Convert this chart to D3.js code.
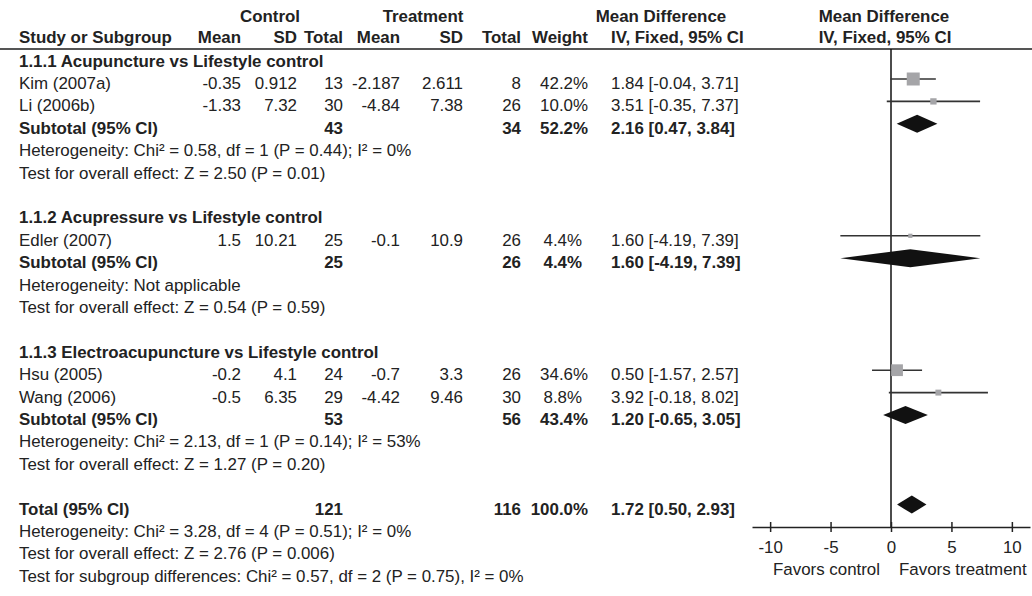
<!DOCTYPE html>
<html>
<head>
<meta charset="utf-8">
<script src="https://cdn.jsdelivr.net/npm/d3@7"></script>
<style>
  body { margin: 0; background: #fff; }
  text { font-family: "Liberation Sans", Arial, sans-serif; fill: #222; }
</style>
</head>
<body>
<svg id="chart" width="1032" height="596"></svg>
<script>
// ---- Study-level data ----
const groupTitles = [
  "1.1.1 Acupuncture vs Lifestyle control",
  "1.1.2 Acupressure vs Lifestyle control",
  "1.1.3 Electroacupuncture vs Lifestyle control"
];
const studyGroup = [0, 0, 1, 2, 2];
const studyNames = ["Kim (2007a)", "Li (2006b)", "Edler (2007)", "Hsu (2005)", "Wang (2006)"];
const ctrlMean = ["-0.35", "-1.33", "1.5", "-0.2", "-0.5"];
const ctrlSD = ["0.912", "7.32", "10.21", "4.1", "6.35"];
const ctrlN = [13, 30, 25, 24, 29];
const trtMean = ["-2.187", "-4.84", "-0.1", "-0.7", "-4.42"];
const trtSD = ["2.611", "7.38", "10.9", "3.3", "9.46"];
const trtN = [8, 26, 26, 26, 30];
const studyWeight = [42.2, 10.0, 4.4, 34.6, 8.8];
const studyMD = [1.84, 3.51, 1.60, 0.50, 3.92];
const studyLo = [-0.04, -0.35, -4.19, -1.57, -0.18];
const studyHi = [3.71, 7.37, 7.39, 2.57, 8.02];

// ---- Subgroup pooled estimates ----
const subCtrlN = [43, 25, 53];
const subTrtN = [34, 26, 56];
const subWeight = [52.2, 4.4, 43.4];
const subMD = [2.16, 1.60, 1.20];
const subLo = [0.47, -4.19, -0.65];
const subHi = [3.84, 7.39, 3.05];
const subHet = [
  "Heterogeneity: Chi\u00b2 = 0.58, df = 1 (P = 0.44); I\u00b2 = 0%",
  "Heterogeneity: Not applicable",
  "Heterogeneity: Chi\u00b2 = 2.13, df = 1 (P = 0.14); I\u00b2 = 53%"
];
const subTest = [
  "Test for overall effect: Z = 2.50 (P = 0.01)",
  "Test for overall effect: Z = 0.54 (P = 0.59)",
  "Test for overall effect: Z = 1.27 (P = 0.20)"
];

// ---- Overall pooled estimate ----
const totalCtrlN = 121;
const totalTrtN = 116;
const totalWeight = 100.0;
const totalMD = 1.72;
const totalLo = 0.50;
const totalHi = 2.93;
const totalNotes = [
  "Heterogeneity: Chi\u00b2 = 3.28, df = 4 (P = 0.51); I\u00b2 = 0%",
  "Test for overall effect: Z = 2.76 (P = 0.006)",
  "Test for subgroup differences: Chi\u00b2 = 0.57, df = 2 (P = 0.75), I\u00b2 = 0%"
];

// ---- Axis ----
const axisTicks = [-10, -5, 0, 5, 10];
const axisLeftLabel = "Favors control";
const axisRightLabel = "Favors treatment";

// ---- Layout ----
const W = 1032, H = 596;
const FS = 16.9;
const rowH = 22.4;
const firstRowY = 56.6;   // centre line of the first body row (marks)
const textShift = 4;      // table text sits slightly below the mark centre
const headerLineY = 49;
const axisY = 527;
const col = {
  label: 19, cMean: 241, cSD: 297, cN: 343,
  tMean: 400, tSD: 463, tN: 521, weight: 588, ci: 611
};

const svg = d3.select("#chart");
// Plain hyphen for negatives, as in the printed table
const num2 = v => d3.format(".2f")(v).replace("\u2212", "-");
const fmtW = w => d3.format(".1f")(w) + "%";
// single-digit weights sit a little left of the column edge
const weightX = w => col.weight - (w < 10 ? 6 : 0);
const ciText = (m, l, h) => `${num2(m)} [${num2(l)}, ${num2(h)}]`;

// Build the row list
const rows = [];
groupTitles.forEach((title, g) => {
  rows.push({ type: "group", text: title });
  studyNames.forEach((name, i) => {
    if (studyGroup[i] !== g) return;
    rows.push({
      type: "study", name,
      cMean: ctrlMean[i], cSD: ctrlSD[i], cN: ctrlN[i],
      tMean: trtMean[i], tSD: trtSD[i], tN: trtN[i],
      weight: studyWeight[i], md: studyMD[i], lo: studyLo[i], hi: studyHi[i]
    });
  });
  rows.push({
    type: "pooled", name: "Subtotal (95% CI)", cN: subCtrlN[g], tN: subTrtN[g],
    weight: subWeight[g], md: subMD[g], lo: subLo[g], hi: subHi[g]
  });
  rows.push({ type: "note", text: subHet[g] });
  rows.push({ type: "note", text: subTest[g] });
  rows.push({ type: "blank" });
});
rows.push({
  type: "pooled", name: "Total (95% CI)", cN: totalCtrlN, tN: totalTrtN,
  weight: totalWeight, md: totalMD, lo: totalLo, hi: totalHi
});
totalNotes.forEach(t => rows.push({ type: "note", text: t }));
rows.forEach((r, i) => { r.y = firstRowY + i * rowH; r.ty = r.y + textShift; });

// Scale for the forest plot
const x = d3.scaleLinear().domain([-11.5, 11.5]).range([752, 1030]);

function txt(xp, y, s, anchor = "start", bold = false) {
  return svg.append("text")
    .attr("x", xp).attr("y", y).attr("dy", "0.36em")
    .attr("text-anchor", anchor)
    .attr("font-size", FS)
    .attr("font-weight", bold ? "bold" : "normal")
    .text(s);
}

// Header
const hy1 = 16, hy2 = 37;
txt(270, hy1, "Control", "middle", true);
txt(423, hy1, "Treatment", "middle", true);
txt(661, hy1, "Mean Difference", "middle", true);
txt(884, hy1, "Mean Difference", "middle", true);
txt(col.label, hy2, "Study or Subgroup", "start", true);
txt(col.cMean, hy2, "Mean", "end", true);
txt(col.cSD, hy2, "SD", "end", true);
txt(col.cN, hy2, "Total", "end", true);
txt(col.tMean, hy2, "Mean", "end", true);
txt(col.tSD, hy2, "SD", "end", true);
txt(col.tN, hy2, "Total", "end", true);
txt(col.weight, hy2, "Weight", "end", true);
txt(col.ci, hy2, "IV, Fixed, 95% CI", "start", true);
txt(885, hy2, "IV, Fixed, 95% CI", "middle", true);

svg.append("line")
  .attr("x1", 0).attr("x2", W).attr("y1", headerLineY).attr("y2", headerLineY)
  .attr("stroke", "#555").attr("stroke-width", 2);

// Zero line
svg.append("line")
  .attr("x1", x(0)).attr("x2", x(0)).attr("y1", headerLineY).attr("y2", axisY)
  .attr("stroke", "#111").attr("stroke-width", 1.5);

// Table rows
rows.forEach(r => {
  const y = r.ty;
  if (r.type === "group") txt(col.label, y, r.text, "start", true);
  else if (r.type === "note") txt(col.label, y, r.text);
  else if (r.type === "study") {
    txt(col.label, y, r.name);
    txt(col.cMean, y, r.cMean, "end");
    txt(col.cSD, y, r.cSD, "end");
    txt(col.cN, y, r.cN, "end");
    txt(col.tMean, y, r.tMean, "end");
    txt(col.tSD, y, r.tSD, "end");
    txt(col.tN, y, r.tN, "end");
    txt(weightX(r.weight), y, fmtW(r.weight), "end");
    txt(col.ci, y, ciText(r.md, r.lo, r.hi));
  } else if (r.type === "pooled") {
    txt(col.label, y, r.name, "start", true);
    txt(col.cN, y, r.cN, "end", true);
    txt(col.tN, y, r.tN, "end", true);
    txt(weightX(r.weight), y, fmtW(r.weight), "end", true);
    txt(col.ci, y, ciText(r.md, r.lo, r.hi), "start", true);
  }
});

// Study estimates: CI whiskers and weighted squares (side ~ sqrt(weight))
const studies = rows.filter(r => r.type === "study");
svg.append("g").selectAll("line").data(studies).join("line")
  .attr("x1", d => x(d.lo)).attr("x2", d => x(d.hi))
  .attr("y1", d => d.y).attr("y2", d => d.y)
  .attr("stroke", "#333").attr("stroke-width", 1.6);
svg.append("g").selectAll("rect").data(studies).join("rect")
  .attr("x", d => x(d.md) - Math.sqrt(d.weight))
  .attr("y", d => d.y - Math.sqrt(d.weight))
  .attr("width", d => 2 * Math.sqrt(d.weight))
  .attr("height", d => 2 * Math.sqrt(d.weight))
  .attr("fill", "#a5a5a8");

// Pooled estimates: diamonds
const pooled = rows.filter(r => r.type === "pooled");
const dh = 9;
svg.append("g").selectAll("path").data(pooled).join("path")
  .attr("d", d => `M${x(d.lo)},${d.y} L${x(d.md)},${d.y - dh} L${x(d.hi)},${d.y} L${x(d.md)},${d.y + dh} Z`)
  .attr("fill", "#111");

// Bottom axis
const axis = d3.axisBottom(x).tickValues(axisTicks)
  .tickFormat(d => String(d))
  .tickSizeInner(5).tickSizeOuter(0).tickPadding(9);
const ag = svg.append("g").attr("transform", `translate(0,${axisY})`).call(axis);
ag.select(".domain").attr("stroke", "#222").attr("stroke-width", 1.5);
ag.selectAll(".tick line").attr("y1", -5).attr("y2", 5).attr("stroke", "#222").attr("stroke-width", 1.5);
ag.selectAll(".tick text")
  .attr("font-size", FS)
  .attr("font-family", "'Liberation Sans', Arial, sans-serif")
  .attr("fill", "#222");

txt(x(0) - 11, 569, axisLeftLabel, "end");
txt(x(0) + 8, 569, axisRightLabel, "start");
</script>
</body>
</html>
